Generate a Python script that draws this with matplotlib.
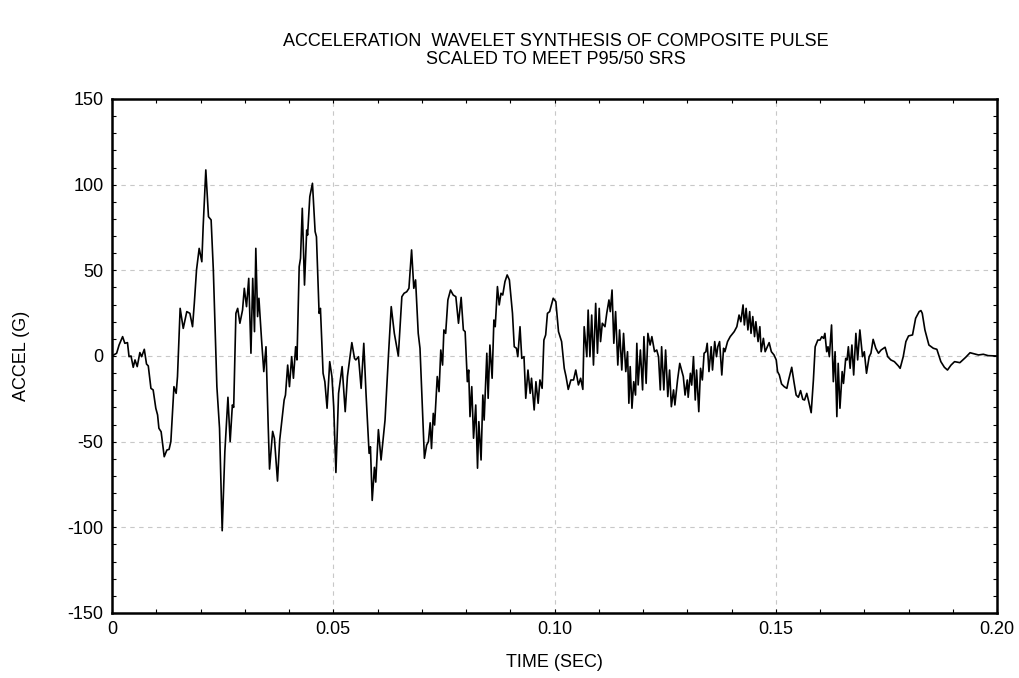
import matplotlib
matplotlib.use('Agg')
import matplotlib.pyplot as plt
import numpy as np
from matplotlib.ticker import MultipleLocator

plt.rcParams['font.family'] = ['Liberation Sans', 'DejaVu Sans']
plt.rcParams['axes.unicode_minus'] = False

# time (ms) and acceleration (G)
time_ms = [
    0, 1.05, 1.6, 2.4, 2.9, 3.5, 3.85, 4.3, 4.8, 5.2, 5.7, 6.3, 6.7, 7.3, 7.8, 8.2,
    8.8, 9.3, 9.9, 10.3, 10.6, 11.1, 11.8, 12.4, 12.9, 13.3, 14.0, 14.5, 14.8, 15.4,
    16.1, 16.9, 17.6, 18.2, 18.6, 19.1, 19.7, 20.3, 20.6, 21.2, 21.8, 22.4, 22.9,
    23.7, 24.3, 24.9, 25.5, 26.2, 26.7, 27.2, 27.5, 28.0, 28.4, 28.9, 29.5, 29.9,
    30.4, 30.9, 31.4, 31.8, 32.2, 32.5, 32.9, 33.2,
    33.8, 34.3, 34.8, 35.3, 35.6, 36.3, 36.7, 37.4, 37.9, 38.9, 39.2, 39.7, 40.1,
    40.6, 41.0, 41.5, 41.8, 42.3, 42.6, 43.0, 43.5, 44.0, 44.2, 44.7, 45.3, 45.9,
    46.2, 46.8, 47.1, 47.7, 48.1, 48.6, 49.2, 49.7, 50.1, 50.6, 51.2, 52.0, 52.7,
    53.2, 54.2, 54.8, 55.1, 55.7, 56.3, 56.9, 57.4, 58.1, 58.4, 58.8, 59.3, 59.6,
    60.2, 60.8, 61.7, 62.5, 63.1, 63.8, 64.7, 65.5, 66.0,
    66.6, 67.1, 67.7, 68.2, 68.6, 69.2, 69.6, 70.0, 70.6, 71.1, 71.5, 71.9, 72.2,
    72.6, 72.9, 73.5, 73.9, 74.3, 74.7, 75.0, 75.4, 75.9, 76.5, 77.1, 77.7, 78.3,
    78.9, 79.4, 79.8, 80.3, 80.6, 80.9, 81.3, 81.7, 82.2, 82.6, 82.9, 83.4, 83.8,
    84.1, 84.7, 85.0, 85.4, 85.9, 86.3, 86.6, 87.1, 87.5, 87.9, 88.3, 88.8, 89.3,
    89.8, 90.5, 90.9, 91.4, 91.7, 92.2, 92.6, 93.1, 93.5, 94.0, 94.5, 94.8, 95.4,
    95.8, 96.3, 96.7, 97.2, 97.6, 98.0, 98.4, 98.9,
    99.7, 100.3, 100.9, 101.6, 102.2, 102.6, 103.1, 103.7, 104.3, 104.8, 105.4,
    105.9, 106.4, 106.7, 107.3, 107.6, 108.0, 108.4, 108.8, 109.3, 109.7, 110.1,
    110.4, 110.8, 111.4, 111.8, 112.3, 112.6, 113.0, 113.4, 113.8, 114.3, 114.7,
    115.2, 115.6, 116.1, 116.5, 116.8, 117.1, 117.5, 117.9, 118.3, 118.6, 118.9,
    119.4, 119.9, 120.2, 120.7, 121.1, 121.6, 122.0, 122.6, 123.1, 123.5, 123.9,
    124.2, 124.7, 125.1, 125.6, 126.0, 126.4, 126.9, 127.2, 127.8, 128.3, 128.7,
    129.1, 129.5, 130.0, 130.2, 130.7, 131.0, 131.4, 131.8, 132.1, 132.6, 133.0,
    133.4, 133.8, 134.2, 134.5, 134.9, 135.4, 135.7, 136.2, 136.6, 136.9, 137.3,
    137.8, 138.2, 138.5, 139.1, 139.7, 140.6, 141.2, 141.7, 142.1, 142.6, 142.9,
    143.3, 143.7, 144.1, 144.4, 144.8, 145.2, 145.5, 146.0, 146.4, 146.7, 147.2,
    147.6, 148.1, 148.5, 149.0, 149.6, 150.1, 150.4, 150.8, 151.3, 151.9, 152.5,
    152.9, 153.6, 154.1, 154.6, 155.1, 155.6, 156.1, 156.5, 157.0, 157.4, 158.0,
    158.5, 158.9, 159.5, 160.0, 160.4, 160.8, 161.1, 161.5, 161.8, 162.1, 162.6,
    163.0, 163.4, 163.8, 164.1, 164.5, 165.0, 165.3, 165.8, 166.1, 166.4, 166.8,
    167.2, 167.6, 168.1, 168.5, 169.0, 169.6, 170.0, 170.5, 171.1, 171.5, 172.0,
    172.6, 173.2, 173.8, 174.7, 175.3, 176.0, 176.8, 177.7, 178.1, 178.8, 179.4,
    180.0, 180.9, 181.6, 182.4, 182.8, 183.1, 183.7, 184.6, 185.6, 186.4, 187.3,
    188.1, 188.8, 189.6, 190.4, 191.6, 192.9, 193.9, 194.9, 195.8, 196.9, 198.0,
    200.0,
]
accel_g = [
    0, 1.6, 6.4, 11.3, 7.4, 7.8, -0.4, 0, -6.6, -2.3, -6.2, 2, -0.4, 3.9, -4.7, -5.8,
    -18.9, -19.8, -30.5, -34.4, -42.2, -44.2, -58.8, -54.9, -54.5, -50, -17.9, -21.8, -12, 27.8,
    16.1, 25.9, 24.9, 17.1, 30.7, 50.2, 62.8, 55, 75.5, 108.6, 81.3, 79.4, 50.2,
    -17.9, -42.2, -102, -56, -24.1, -50, -28.6, -30, 24.9, 27.8, 19.1, 26.8, 39.5,
    28.8, 45.3, 1.6, 45.3, 14.2, 62.8, 23, 33.7,
    9.3, -9.1, 5.4, -41, -66, -44, -48, -73, -49, -25.7, -22.8, -5.3, -17.9,
    -0.4, -13, 5.4, -2.3, 52.1, 57, 86.2, 41.4, 73.5, 70.6, 93, 100.8, 72.6,
    69.6, 24.9, 27.8, -10.1, -15, -30.5, -3.3, -12, -29.6, -68, -21.8, -6.2, -32.5,
    -12, 7.8, -1.4, -2.3, -0.4, -18.9, 7.4, -21.8, -56.8, -53, -84.3, -65, -73.6,
    -43, -60.7, -37.4, 1.6, 28.8, 13.2, 0, 34.6, 36.6,
    37.5, 39.5, 61.9, 39.5, 44.4, 13.2, 4.5, -21.8, -59.7, -52, -50, -39, -54,
    -33.5, -40.3, -12, -20.8, 3.5, -5.3, 15.2, 13.2, 32.7, 38.5, 35.6, 34.6, 19.1,
    34.2, 15.2, 14.2, -15, -8.2, -35.4, -17.9, -48, -28.6, -65.5, -38.3, -60.7, -22.8,
    -37.4, 1.6, -24.7, 6.4, -13, 21, 17.1, 40.5, 29.8, 36.6, 35.6, 43.4, 47.3,
    44.4, 24.9, 5.4, 4.5, -0.4, 17.1, -1.4, -0.4, -24.7, -8.2, -21.8, -13, -31.5,
    -15, -27.6, -14, -18.9, 9.3, 12.3, 24.9, 25.9,
    33.7, 31.7, 14.2, 8.4, -7.2, -12, -19.5, -14, -14, -8.2, -16.9,
    -13, -19.5, 17.1, -0.4, 26.8, -0.4, 23.9, -5.3, 30.7, 1.6, 27.8,
    8.4, 19.1, 17.1, 24.9, 32.7, 25.9, 38.5, 7.4, 25.9, -5.3, 15.2,
    -8.2, 13.2, -9.1, 2.5, -27.6, -6.2, -30.5, -15, -22.8, 7.4, -16.9,
    3.5, -19.8, 11.3, -16, 13.2, 6.4, 11.3, 2.5, 3.5, -0.4, -19.8,
    5.4, -19.8, 3.5, -23.7, -8.2, -29.6, -19.8, -28.6, -14, -4.3, -8.2,
    -12, -22.8, -14, -24.1, -10.1, -17, -0.4, -25.7, -8.2, -32.5, -7.2,
    -14, 1.6, 2.5, 7.4, -9.1, 5.4, -8.2, 8.4, -0.4, 5.4, 8.4,
    -11.1, 4.5, 2.5, 8.4, 11.3, 14.2, 17.1, 23.9, 20, 29.8, 18.1,
    27.8, 15.2, 25.9, 13.2, 23, 11.3, 20, 8.4, 17.1, 2.5, 10.3,
    2.5, 5.4, 7.8, 2.5, 0.6, -2.3, -9.1, -11.1, -16.3, -17.9, -18.9,
    -14, -6.6, -15, -22.8, -24.1, -20.2, -25.3, -25.7, -21.8, -26.1, -33.1,
    -14, 5.4, 9.3, 9.3, 11.3, 10.3, 13.2, 2.5, 5.4, -0.4, 18.1,
    -15, 2.5, -35.4, -4.3, -30.5, -9.1, -16, -1.4, -2.3, 5.4, -7.2,
    6.4, -11.1, 13.2, -2.3, 15.2, -0.4, 2.5, -10.1, -0.4, 1.6, 9.7,
    4.5, 1.6, 3.5, 5.1, -0.4, -2.3, -3.3, -5.8, -7.2, -0.4, 8.4,
    11.7, 12.3, 22, 25.9, 26.5, 24.9, 15.2, 6.4, 4.5, 3.9, -3.3,
    -6.6, -8.2, -5.3, -3.3, -3.9, -0.8, 1.9, 1.2, 0.6, 1.0, 0.2,
    0,
]

x_ticks = [0, 0.05, 0.10, 0.15, 0.20]
x_labels = ['0', '0.05', '0.10', '0.15', '0.20']
y_ticks = [-150, -100, -50, 0, 50, 100, 150]
title_lines = ['ACCELERATION  WAVELET SYNTHESIS OF COMPOSITE PULSE',
               'SCALED TO MEET P95/50 SRS']

fig = plt.figure(figsize=(10.2, 6.78), dpi=100)
ax = fig.add_axes([0.1098, 0.0959, 0.8677, 0.7581])

t = np.array(time_ms) / 1000.0
ax.plot(t, accel_g, color='black', lw=1.2)

ax.set_xlim(0, 0.2)
ax.set_ylim(-150, 150)
ax.set_xticks(x_ticks)
ax.set_xticklabels(x_labels)
ax.set_yticks(y_ticks)
ax.xaxis.set_minor_locator(MultipleLocator(0.01))
ax.yaxis.set_minor_locator(MultipleLocator(10))
ax.tick_params(which='both', direction='in', top=True, right=True,
               length=3, width=0.8, labelsize=13, pad=6)
ax.grid(True, which='major', color='#c8c8c8', linestyle=(0, (4, 4)), lw=0.8)
for s in ax.spines.values():
    s.set_linewidth(1.8)

ax.set_xlabel('TIME (SEC)', fontsize=13)
ax.xaxis.set_label_coords(0.5, -0.08)
ax.set_ylabel('ACCEL (G)', fontsize=13)
ax.yaxis.set_label_coords(-0.093, 0.5)

fig.text(0.545, 1 - 42 / 678, title_lines[0], fontsize=13, ha='center', va='center')
fig.text(0.545, 1 - 60 / 678, title_lines[1], fontsize=13, ha='center', va='center')

fig.savefig('out.png', dpi=100)
